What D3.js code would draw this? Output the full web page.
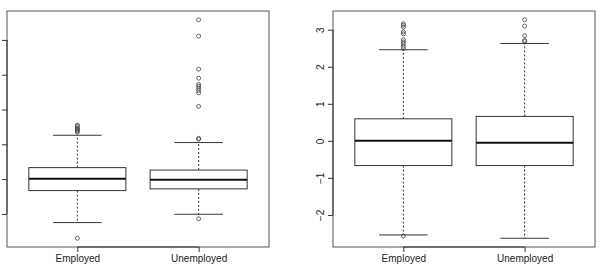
<!DOCTYPE html>
<html>
<head>
<meta charset="utf-8">
<script src="https://cdn.jsdelivr.net/npm/d3@7"></script>
<style>
  body { margin: 0; background: #fff; }
  svg { display: block; font-family: "Liberation Sans", Arial, sans-serif; }
</style>
</head>
<body>
<div id="chart"></div>
<script>
// groups on the x axis
var groups = ["Employed", "Unemployed"];

// left panel: box stats per group [lowWhisker, q1, median, q3, highWhisker]
var leftStats = [
    [-1.25, -0.33, 0.01, 0.33, 1.26],
    [-1.01, -0.28, -0.02, 0.26, 1.05]
];
var leftOutEmployed = [-1.70, 1.35, 1.38, 1.41, 1.44, 1.47, 1.52, 1.55];
var leftOutUnemployed = [-1.14, 1.15, 1.17, 2.09, 2.48, 2.55, 2.61, 2.67, 2.72, 2.90, 3.16, 4.11, 4.58];
var leftTicks = [-1, 0, 1, 2, 3, 4];

// right panel
var rightStats = [
    [-2.54, -0.667, 0.0, 0.595, 2.46],
    [-2.63, -0.667, -0.054, 0.66, 2.63]
];
var rightOutEmployed = [-2.57, 2.49, 2.55, 2.62, 2.67, 2.73, 2.89, 2.94, 3.07, 3.12, 3.16];
var rightOutUnemployed = [2.68, 2.71, 2.84, 3.10, 3.27];
var rightTicks = [-2, -1, 0, 1, 2, 3];

var W = 600, H = 269;
var svg = d3.select("#chart").append("svg")
    .attr("width", W)
    .attr("height", H);

function drawPanel(left, stats, outliers, ticks, showLabels) {
    var top = 11, bottom = 247, width = 262;
    var g = svg.append("g");

    // R style ranges, padded 4% each side
    var all = d3.merge([stats.map(s => s[0]), stats.map(s => s[4]), outliers[0], outliers[1]]);
    var ext = d3.extent(all);
    var pad = (ext[1] - ext[0]) * 0.04;
    var y = d3.scaleLinear().domain([ext[0] - pad, ext[1] + pad]).range([bottom, top]);
    var x = d3.scaleLinear().domain([0.42, 2.58]).range([left, left + width]);
    var boxW = x(1.4) - x(1);   // half width (boxwex 0.8)
    var capW = boxW / 2;

    stats.forEach((s, i) => {
        var cx = x(i + 1);
        // dashed whiskers
        g.append("line").attr("x1", cx).attr("x2", cx).attr("y1", y(s[3])).attr("y2", y(s[4]))
            .attr("stroke", "#333").attr("stroke-dasharray", "2,2");
        g.append("line").attr("x1", cx).attr("x2", cx).attr("y1", y(s[1])).attr("y2", y(s[0]))
            .attr("stroke", "#333").attr("stroke-dasharray", "2,2");
        // caps
        [s[0], s[4]].forEach(v => {
            g.append("line").attr("x1", cx - capW).attr("x2", cx + capW)
                .attr("y1", y(v)).attr("y2", y(v)).attr("stroke", "#333");
        });
        // box
        g.append("rect")
            .attr("x", cx - boxW).attr("width", 2 * boxW)
            .attr("y", y(s[3])).attr("height", y(s[1]) - y(s[3]))
            .attr("fill", "white").attr("stroke", "#333");
        // median
        g.append("line").attr("x1", cx - boxW).attr("x2", cx + boxW)
            .attr("y1", y(s[2])).attr("y2", y(s[2]))
            .attr("stroke", "#111").attr("stroke-width", 2);
        // outliers
        g.selectAll(null).data(outliers[i]).enter().append("circle")
            .attr("cx", cx).attr("cy", d => y(d)).attr("r", 2)
            .attr("fill", "none").attr("stroke", "#444").attr("stroke-width", 0.8);
    });

    // frame
    g.append("rect")
        .attr("x", left).attr("y", top)
        .attr("width", width).attr("height", bottom - top)
        .attr("fill", "none").attr("stroke", "#555");

    // y axis
    var yAxis = d3.axisLeft(y).tickValues(ticks).tickSize(5).tickSizeOuter(0)
        .tickFormat(d => showLabels ? (d < 0 ? "\u2212" + Math.abs(d) : d) : "");
    var ya = g.append("g").attr("transform", `translate(${left},0)`).call(yAxis);
    ya.select(".domain").remove();
    ya.selectAll("line").attr("stroke", "#333");
    ya.selectAll("text")
        .attr("x", 0).attr("dy", 0)
        .attr("transform", "translate(-9,0) rotate(-90)")
        .attr("text-anchor", "middle")
        .attr("font-size", 10).attr("fill", "#222");
    g.append("line").attr("x1", left).attr("x2", left)
        .attr("y1", y(ticks[0])).attr("y2", y(ticks[ticks.length - 1]))
        .attr("stroke", "#333");

    // x axis
    var xAxis = d3.axisBottom(x).tickValues([1, 2]).tickSize(5).tickSizeOuter(0)
        .tickFormat(d => groups[d - 1]);
    var xa = g.append("g").attr("transform", `translate(0,${bottom})`).call(xAxis);
    xa.select(".domain").remove();
    xa.selectAll("line").attr("stroke", "#333");
    xa.selectAll("text").attr("font-size", 10).attr("fill", "#222");
    g.append("line").attr("x1", x(1)).attr("x2", x(2))
        .attr("y1", bottom).attr("y2", bottom).attr("stroke", "#333");
}

drawPanel(7, leftStats, [leftOutEmployed, leftOutUnemployed], leftTicks, false);
drawPanel(333, rightStats, [rightOutEmployed, rightOutUnemployed], rightTicks, true);
</script>
</body>
</html>
